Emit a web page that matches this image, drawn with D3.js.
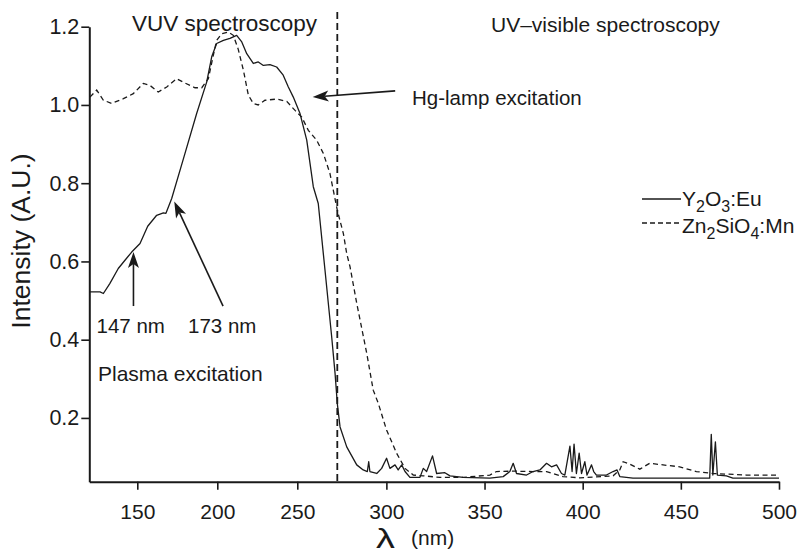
<!DOCTYPE html>
<html>
<head>
<meta charset="utf-8">
<script src="https://cdn.jsdelivr.net/npm/d3@7"></script>
<style>
  html, body { margin: 0; padding: 0; background: #fff; }
  svg { display: block; }
  text { font-family: "Liberation Sans", Arial, Helvetica, sans-serif; fill: #1a1a1a; }
</style>
</head>
<body>
<svg id="chart" width="800" height="555"></svg>
<script>
// ---------- data ----------
// Y2O3:Eu excitation spectrum: wavelength (nm) and intensity (A.U.)
const y2o3Wavelength = [120,126.7,128.8,132.9,138.1,142.3,146.5,151.7,156.5,162.1,166.3,167.9,171.5,178.8,187.1,193.4,196.5,199.6,203.8,207.9,212.1,215.3,218.4,222.5,225.6,228.8,232.9,237.1,241.2,244.4,247.5,251.7,255.9,260,263.1,267.3,271.5,273.6,275,276.4,279.8,284.9,288.2,290.3,291,291.6,295.1,297.6,300.1,301.8,304.4,306,307.8,309.5,312,317.1,318.8,320.5,323.5,325.6,329.8,332.4,339.1,352.7,359.5,362.9,364.6,366.3,371.4,374.7,378.2,381.6,384.1,386.7,389.2,390.9,393.5,394.6,395.6,396.8,398.2,399.4,401.1,402.2,404.5,405.6,407,412.1,415.5,417.5,418.9,425.6,464.7,465.5,466.3,467.6,468.6,473.2,476.5,500];
const y2o3Intensity  = [0.522,0.522,0.518,0.544,0.582,0.603,0.624,0.646,0.690,0.718,0.724,0.723,0.761,0.862,0.978,1.059,1.123,1.157,1.165,1.170,1.178,1.161,1.131,1.106,1.110,1.101,1.103,1.097,1.076,1.046,1.020,0.978,0.910,0.791,0.748,0.578,0.407,0.314,0.237,0.177,0.126,0.080,0.067,0.063,0.088,0.063,0.058,0.071,0.097,0.071,0.080,0.067,0.080,0.063,0.048,0.048,0.071,0.063,0.103,0.058,0.060,0.052,0.048,0.046,0.050,0.063,0.084,0.058,0.054,0.063,0.067,0.084,0.075,0.080,0.058,0.054,0.128,0.063,0.133,0.058,0.110,0.058,0.088,0.054,0.080,0.063,0.054,0.054,0.063,0.067,0.050,0.046,0.046,0.158,0.054,0.139,0.054,0.052,0.046,0.046];

// Zn2SiO4:Mn excitation spectrum
const znWavelength = [120.4,124.6,128.8,134,141.3,147.5,153.8,157.9,163.1,168.4,174.6,179.8,186.1,190.3,194.4,197.5,199.6,202.8,206.9,210,213.1,216.3,219.4,222.5,225.6,229.8,237.1,243.4,248.6,252.8,256.9,262.1,266.3,270.4,275,278.1,279.8,281.5,284.9,290,293.3,295.9,300.1,305.2,309.5,313.7,318.8,327.3,339.1,352.7,356.1,364.6,374.7,381.6,390,398.5,415.5,418.9,420.6,423.1,429.1,434.1,440.9,449.4,457.9,466.4,483.4,500];
const znIntensity  = [1.020,1.038,1.012,1.004,1.016,1.029,1.055,1.050,1.033,1.046,1.067,1.056,1.044,1.044,1.067,1.127,1.165,1.182,1.186,1.178,1.142,1.089,1.025,1.004,1.000,1.012,1.015,1.009,0.986,0.969,0.935,0.910,0.876,0.825,0.731,0.671,0.620,0.586,0.493,0.365,0.271,0.237,0.169,0.110,0.071,0.054,0.052,0.048,0.048,0.054,0.063,0.064,0.063,0.063,0.050,0.047,0.052,0.067,0.088,0.084,0.069,0.084,0.080,0.075,0.063,0.058,0.054,0.054];

// axis ticks
const xMajorTicks = [150,200,250,300,350,400,450,500];
const xMinorTicks = [125,175,225,275,325,375,425,475];
const yMajorTicks = [0.2,0.4,0.6,0.8,1.0,1.2];
const yMinorTicks = [0.1,0.3,0.5,0.7,0.9,1.1];

// separation between VUV and UV-visible regions
const dividerWavelength = 275;

// annotation arrows: [tail wavelength, tail intensity, head wavelength, head intensity]
const arrow147 = [147.6, 0.486, 147.6, 0.624];
const arrow173 = [203.6, 0.486, 173.1, 0.753];
const arrowHg  = [304.5, 1.036, 259.6, 1.020];

// ---------- layout ----------
const svg = d3.select("#chart");
const x = d3.scaleLinear().domain([120, dividerWavelength, 500]).range([89.3, 337.3, 779]);
const y = d3.scaleLinear().domain([0.037, 1.2]).range([481.7, 26.7]);

const fontFam = '"Liberation Sans", Arial, Helvetica, sans-serif';

// axes
const gx = svg.append("g").attr("transform", "translate(0,481.7)");
gx.call(d3.axisBottom(x).tickValues(xMinorTicks).tickSize(5).tickSizeOuter(0).tickFormat(""));
gx.call(d3.axisBottom(x).tickValues(xMajorTicks).tickSize(8).tickSizeOuter(0).tickPadding(14).tickFormat(d3.format("d")));
gx.selectAll("text").style("font-size", "21px").style("font-family", fontFam).attr("fill", "#1a1a1a");

const gy = svg.append("g").attr("transform", "translate(89.3,0)");
gy.call(d3.axisLeft(y).tickValues(yMinorTicks).tickSize(4).tickSizeOuter(0).tickFormat(""));
gy.call(d3.axisLeft(y).tickValues(yMajorTicks).tickSize(8).tickSizeOuter(0).tickPadding(2).tickFormat(d3.format(".1f")));
gy.selectAll("text").style("font-size", "21.5px").style("font-family", fontFam).attr("fill", "#1a1a1a");

svg.selectAll(".domain").attr("stroke", "#1a1a1a").attr("stroke-width", 2);
svg.selectAll(".tick line").attr("stroke", "#1a1a1a").attr("stroke-width", 1.6);

// divider line
svg.append("line")
  .attr("x1", x(dividerWavelength)).attr("x2", x(dividerWavelength))
  .attr("y1", 12).attr("y2", 485)
  .attr("stroke", "#1a1a1a").attr("stroke-width", 1.8).attr("stroke-dasharray", "7,4");

// curves
const line = d3.line().x(d => x(d[0])).y(d => y(d[1]));
const y2o3 = y2o3Wavelength.map((w, i) => [w, y2o3Intensity[i]]);
const zn = znWavelength.map((w, i) => [w, znIntensity[i]]);

svg.append("path").datum(zn).attr("d", line)
  .attr("fill", "none").attr("stroke", "#1a1a1a").attr("stroke-width", 1.3)
  .attr("stroke-dasharray", "5,3.5");
svg.append("path").datum(y2o3).attr("d", line)
  .attr("fill", "none").attr("stroke", "#1a1a1a").attr("stroke-width", 1.3)
  .attr("stroke-linejoin", "round");

// arrows
function arrow(a) {
  const x1 = x(a[0]), y1 = y(a[1]), x2 = x(a[2]), y2 = y(a[3]);
  const ang = Math.atan2(y2 - y1, x2 - x1);
  const L = 16, W = 5.5, notch = 12;
  svg.append("line")
    .attr("x1", x1).attr("y1", y1)
    .attr("x2", x2 - Math.cos(ang) * notch).attr("y2", y2 - Math.sin(ang) * notch)
    .attr("stroke", "#1a1a1a").attr("stroke-width", 1.6);
  const bx = x2 - Math.cos(ang) * L, by = y2 - Math.sin(ang) * L;
  const nx = x2 - Math.cos(ang) * notch, ny = y2 - Math.sin(ang) * notch;
  const px = -Math.sin(ang) * W, py = Math.cos(ang) * W;
  svg.append("path")
    .attr("d", `M${x2},${y2}L${bx + px},${by + py}L${nx},${ny}L${bx - px},${by - py}Z`)
    .attr("fill", "#1a1a1a");
}
arrow(arrow147);
arrow(arrow173);
arrow(arrowHg);

// annotation text
function label(txt, px, py, size, anchor) {
  return svg.append("text").attr("x", px).attr("y", py)
    .attr("text-anchor", anchor || "start")
    .style("font-size", size + "px").text(txt);
}
label("VUV spectroscopy", 132, 31, 22.5);
label("UV\u2013visible spectroscopy", 491, 32, 21);
label("Hg-lamp excitation", 412, 105, 20.5);
label("147 nm", 96.5, 333, 20.5);
label("173 nm", 188, 333, 20.5);
label("Plasma excitation", 98, 381, 21);

// axis titles
svg.append("text")
  .attr("transform", "translate(30,241) rotate(-90)")
  .attr("text-anchor", "middle")
  .style("font-size", "26.5px")
  .text("Intensity (A.U.)");

svg.append("text").attr("transform", "translate(376,548) scale(1.35,1)")
  .style("font-size", "28px").text("\u03bb");
svg.append("text").attr("x", 411).attr("y", 545).style("font-size", "21px").text("(nm)");

// legend
const legendItems = [
  { dash: null, parts: [["Y", 0], ["2", 1], ["O", 0], ["3", 1], [":Eu", 0]], ly: 199, ty: 206 },
  { dash: "5,3", parts: [["Zn", 0], ["2", 1], ["SiO", 0], ["4", 1], [":Mn", 0]], ly: 223, ty: 233 }
];
legendItems.forEach(it => {
  svg.append("line").attr("x1", 642).attr("x2", 681).attr("y1", it.ly).attr("y2", it.ly)
    .attr("stroke", "#1a1a1a").attr("stroke-width", 1.3)
    .attr("stroke-dasharray", it.dash);
  const t = svg.append("text").attr("x", 682).attr("y", it.ty).style("font-size", "21px");
  let prev = 0;
  it.parts.forEach(p => {
    const sub = p[1];
    const dy = sub && !prev ? 6 : (!sub && prev ? -6 : 0);
    t.append("tspan").attr("dy", dy).style("font-size", sub ? "16px" : "21px").text(p[0]);
    prev = sub;
  });
});
</script>
</body>
</html>
